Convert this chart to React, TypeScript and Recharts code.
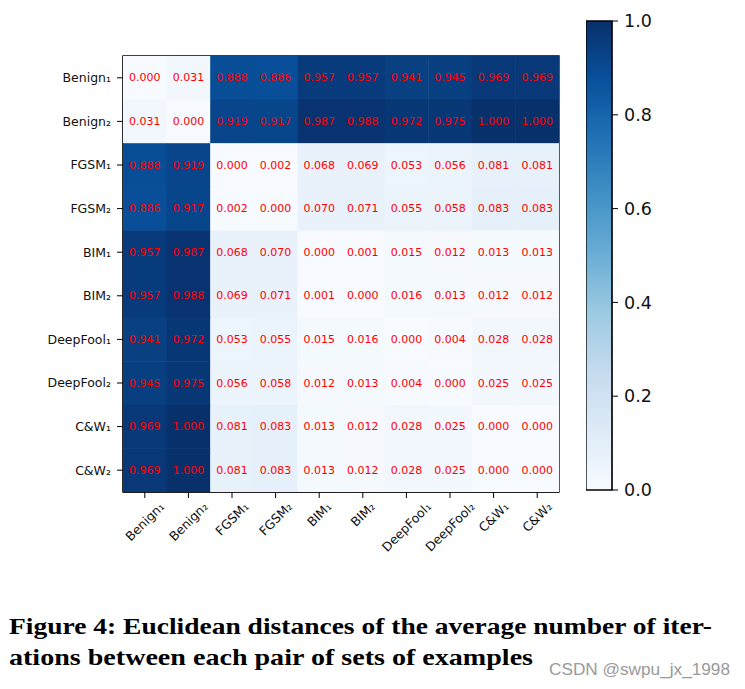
import {
  ScatterChart,
  Scatter,
  XAxis,
  YAxis,
  ReferenceArea,
  BarChart,
  Bar,
} from "recharts";

const labels = [
  "Benign₁",
  "Benign₂",
  "FGSM₁",
  "FGSM₂",
  "BIM₁",
  "BIM₂",
  "DeepFool₁",
  "DeepFool₂",
  "C&W₁",
  "C&W₂",
];

const benign1 = [0.0, 0.031, 0.888, 0.886, 0.957, 0.957, 0.941, 0.945, 0.969, 0.969];
const benign2 = [0.031, 0.0, 0.919, 0.917, 0.987, 0.988, 0.972, 0.975, 1.0, 1.0];
const fgsm1 = [0.888, 0.919, 0.0, 0.002, 0.068, 0.069, 0.053, 0.056, 0.081, 0.081];
const fgsm2 = [0.886, 0.917, 0.002, 0.0, 0.07, 0.071, 0.055, 0.058, 0.083, 0.083];
const bim1 = [0.957, 0.987, 0.068, 0.07, 0.0, 0.001, 0.015, 0.012, 0.013, 0.013];
const bim2 = [0.957, 0.988, 0.069, 0.071, 0.001, 0.0, 0.016, 0.013, 0.012, 0.012];
const deepfool1 = [0.941, 0.972, 0.053, 0.055, 0.015, 0.016, 0.0, 0.004, 0.028, 0.028];
const deepfool2 = [0.945, 0.975, 0.056, 0.058, 0.012, 0.013, 0.004, 0.0, 0.025, 0.025];
const cw1 = [0.969, 1.0, 0.081, 0.083, 0.013, 0.012, 0.028, 0.025, 0.0, 0.0];
const cw2 = [0.969, 1.0, 0.081, 0.083, 0.013, 0.012, 0.028, 0.025, 0.0, 0.0];

const rows = [benign1, benign2, fgsm1, fgsm2, bim1, bim2, deepfool1, deepfool2, cw1, cw2];

const colorbarTicks = [0, 0.2, 0.4, 0.6, 0.8, 1.0];
const cellTicks = [0, 1, 2, 3, 4, 5, 6, 7, 8, 9];

// matplotlib "Blues"
const blues = ["#f7fbff", "#deebf7", "#c6dbef", "#9ecae1", "#6baed6", "#4292c6", "#2171b5", "#08519c", "#08306b"];

const hex = (h: string) => [1, 3, 5].map((i) => parseInt(h.slice(i, i + 2), 16));
const bluesAt = (v: number) => {
  const t = Math.max(0, Math.min(1, v)) * (blues.length - 1);
  const i = Math.min(blues.length - 2, Math.floor(t));
  const f = t - i;
  const a = hex(blues[i]);
  const b = hex(blues[i + 1]);
  const c = a.map((x, k) => Math.round(x + (b[k] - x) * f));
  return `rgb(${c[0]},${c[1]},${c[2]})`;
};

const cells = rows.flatMap((row, y) => row.map((v, x) => ({ x, y, v })));

const FONT = "DejaVu Sans";
const PLOT = 436;
const CELL = PLOT / 10;

let ctx: CanvasRenderingContext2D | null = null;
const measure = (s: string, font: string) => {
  if (!ctx) ctx = document.createElement("canvas").getContext("2d");
  if (!ctx) return s.length * 7;
  ctx.font = font;
  return ctx.measureText(s).width;
};

const CellShape = (props: any) => {
  const { cx, cy, payload } = props;
  return (
    <g>
      <rect
        x={cx - CELL / 2}
        y={cy - CELL / 2}
        width={CELL + 0.5}
        height={CELL + 0.5}
        fill={bluesAt(payload.v)}
      />
      <text
        x={cx}
        y={cy}
        textAnchor="middle"
        dominantBaseline="central"
        fill="#ff0000"
        fontSize={11}
        fontFamily={FONT}
      >
        {payload.v.toFixed(3)}
      </text>
    </g>
  );
};

const XTick = (props: any) => {
  const { x, y, payload } = props;
  const s = labels[payload.value];
  const fs = 12.5;
  const L = measure(s, `${fs}px ${FONT}`);
  const w = (L + fs * 0.75) * Math.SQRT1_2;
  const cy = y + 1 + w / 2;
  return (
    <text
      x={x}
      y={cy}
      textAnchor="middle"
      dominantBaseline="central"
      fontSize={fs}
      fontFamily={FONT}
      fill="#111"
      transform={`rotate(-45, ${x}, ${cy})`}
    >
      {s}
    </text>
  );
};

export default function App() {
  return (
    <div style={{ position: "absolute", left: 0, top: 0, width: 745, height: 689, background: "#fff" }}>
      <div style={{ position: "absolute", left: 0, top: 0 }}>
        <ScatterChart
          width={745}
          height={600}
          margin={{ top: 56, left: 23, right: 186, bottom: 48 }}
        >
          <XAxis
            type="number"
            dataKey="x"
            domain={[-0.5, 9.5]}
            ticks={cellTicks}
            interval={0}
            height={60}
            tickSize={6}
            tickMargin={2}
            tick={<XTick />}
            axisLine={{ stroke: "#000" }}
            tickLine={{ stroke: "#000" }}
            allowDataOverflow
          />
          <YAxis
            type="number"
            dataKey="y"
            domain={[-0.5, 9.5]}
            ticks={cellTicks}
            interval={0}
            reversed
            width={100}
            tickSize={6}
            tickMargin={6}
            tickFormatter={(i: number) => labels[i]}
            tick={{ fill: "#111", fontSize: 12.5, fontFamily: FONT }}
            axisLine={{ stroke: "#000" }}
            tickLine={{ stroke: "#000" }}
            allowDataOverflow
          />
          <Scatter data={cells} shape={<CellShape />} isAnimationActive={false} />
          <ReferenceArea
            x1={-0.5}
            x2={9.5}
            y1={-0.5}
            y2={9.5}
            fill="none"
            stroke="#000"
            strokeWidth={1.3}
            ifOverflow="visible"
          />
        </ScatterChart>
      </div>

      <div style={{ position: "absolute", left: 586, top: 0 }}>
        <BarChart
          width={120}
          height={500}
          data={[{ name: "scale", v: 1 }]}
          margin={{ top: 21, left: 0, right: 34, bottom: 10 }}
          barCategoryGap={0}
        >
          <defs>
            <linearGradient id="bluesGrad" x1="0" y1="1" x2="0" y2="0">
              {blues.map((c, i) => (
                <stop key={c} offset={`${(i / (blues.length - 1)) * 100}%`} stopColor={c} />
              ))}
            </linearGradient>
          </defs>
          <XAxis dataKey="name" hide />
          <YAxis
            orientation="right"
            domain={[0, 1]}
            ticks={colorbarTicks}
            interval={0}
            width={60}
            tickSize={6}
            tickMargin={6}
            tickFormatter={(v: number) => v.toFixed(1)}
            tick={{ fill: "#111", fontSize: 17.5, fontFamily: FONT, textAnchor: "start" }}
            axisLine={{ stroke: "#000" }}
            tickLine={{ stroke: "#000" }}
          />
          <Bar dataKey="v" fill="url(#bluesGrad)" stroke="#000" strokeWidth={1.3} isAnimationActive={false} />
        </BarChart>
      </div>

      <svg
        width={745}
        height={100}
        style={{ position: "absolute", left: 0, top: 589 }}
      >
        <text
          x={9}
          y={45}
          fontFamily="Liberation Serif"
          fontWeight="bold"
          fontSize={24}
          textLength={703}
          lengthAdjust="spacingAndGlyphs"
          fill="#000"
        >
          Figure 4: Euclidean distances of the average number of iter-
        </text>
        <text
          x={9}
          y={76}
          fontFamily="Liberation Serif"
          fontWeight="bold"
          fontSize={24}
          textLength={524}
          lengthAdjust="spacingAndGlyphs"
          fill="#000"
        >
          ations between each pair of sets of examples
        </text>
        <text
          x={549}
          y={86}
          fontFamily="Liberation Sans"
          fontSize={16}
          textLength={181}
          lengthAdjust="spacingAndGlyphs"
          fill="#9a9a9a"
        >
          CSDN @swpu_jx_1998
        </text>
      </svg>
    </div>
  );
}
